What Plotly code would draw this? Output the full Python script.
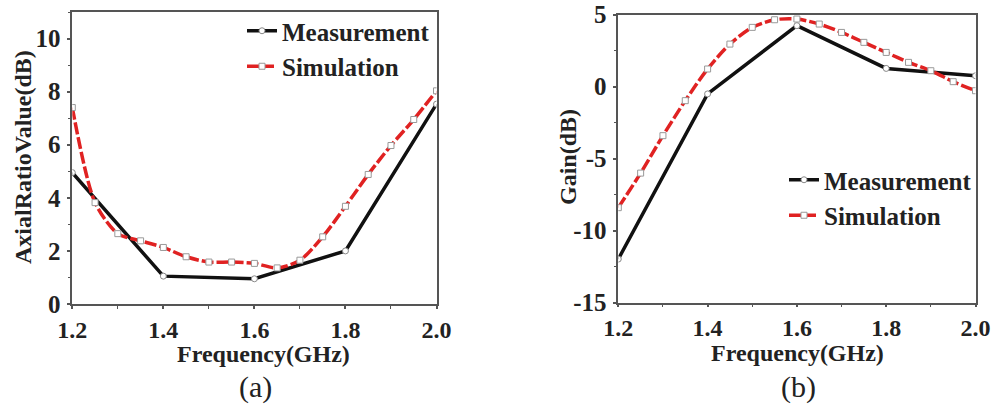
import plotly.graph_objects as go

# ---------------- data ----------------
freq_meas = [1.2, 1.4, 1.6, 1.8, 2.0]
freq_sim = [1.2, 1.25, 1.3, 1.35, 1.4, 1.45, 1.5, 1.55, 1.6, 1.65, 1.7,
            1.75, 1.8, 1.85, 1.9, 1.95, 2.0]

ar_meas = [4.95, 1.05, 0.95, 2.0, 7.53]
ar_sim = [7.4, 3.82, 2.65, 2.38, 2.13, 1.78, 1.58, 1.58, 1.53, 1.36, 1.65,
          2.53, 3.68, 4.88, 5.97, 6.95, 8.03]

gain_meas = [-11.97, -0.5, 4.24, 1.27, 0.76]
gain_sim = [-8.4, -6.0, -3.4, -0.97, 1.23, 2.96, 4.12, 4.65, 4.7, 4.35, 3.77,
            3.08, 2.38, 1.69, 1.11, 0.35, -0.28]

x_ticks = [1.2, 1.4, 1.6, 1.8, 2.0]
x_tick_text = ["1.2", "1.4", "1.6", "1.8", "2.0"]
ar_ticks = [0, 2, 4, 6, 8, 10]
ar_tick_text = ["0", "2", "4", "6", "8", "10"]
gain_ticks = [-15, -10, -5, 0, 5]
gain_tick_text = ["-15", "-10", "-5", "0", "5"]

x_title = "Frequency(GHz)"
ar_title = "AxialRatioValue(dB)"
gain_title = "Gain(dB)"

# ---------------- style ----------------
W, H = 993, 411
SERIF = "Liberation Serif, Times New Roman, serif"
RED = "#e02222"
BLACK = "#111111"
AXC = "#555555"
TXT = "#222222"


def px(x):
    return x / W


def py(y):
    return 1 - y / H


fig = go.Figure()

meas_marker = dict(symbol="circle", size=6, color="white",
                   line=dict(color="#888888", width=1))
sim_marker = dict(symbol="square", size=6, color="white",
                  line=dict(color="#999999", width=1))

# panel (a)
fig.add_trace(go.Scatter(x=freq_meas, y=ar_meas, mode="lines+markers",
                         name="Measurement", line=dict(color=BLACK, width=3.5),
                         marker=meas_marker, xaxis="x", yaxis="y",
                         legend="legend"))
fig.add_trace(go.Scatter(x=freq_sim, y=ar_sim, mode="lines+markers",
                         name="Simulation",
                         line=dict(color=RED, width=3.5, shape="spline",
                                   smoothing=0.8, dash="12px,3px"),
                         marker=sim_marker, xaxis="x", yaxis="y",
                         legend="legend"))
# panel (b)
fig.add_trace(go.Scatter(x=freq_meas, y=gain_meas, mode="lines+markers",
                         name="Measurement", line=dict(color=BLACK, width=3.5),
                         marker=meas_marker, xaxis="x2", yaxis="y2",
                         legend="legend2"))
fig.add_trace(go.Scatter(x=freq_sim, y=gain_sim, mode="lines+markers",
                         name="Simulation",
                         line=dict(color=RED, width=3.5, shape="spline",
                                   smoothing=0.8, dash="12px,3px"),
                         marker=sim_marker, xaxis="x2", yaxis="y2",
                         legend="legend2"))

tickfont = dict(family=SERIF, size=25, color=TXT, weight="bold")
xtickfont = dict(family=SERIF, size=24, color=TXT, weight="bold")
titlefont = dict(family=SERIF, size=24, color=TXT, weight="bold")
ytitlefont = dict(family=SERIF, size=24, color=TXT, weight="bold")


def xaxis(domain, anchor):
    return dict(domain=domain, anchor=anchor, range=[1.2, 2.0],
                tickvals=x_ticks, ticktext=x_tick_text, automargin=False,
                showline=True, linecolor=AXC, linewidth=1.5, mirror=True,
                ticks="outside", ticklen=3, tickwidth=1.5, tickcolor=AXC,
                minor=dict(dtick=0.1, tick0=1.2, ticks="outside", ticklen=3,
                           tickwidth=1, tickcolor=AXC),
                showgrid=False, zeroline=False, tickfont=xtickfont,
                ticklabelstandoff=0)


def yaxis(domain, anchor, rng, ticks, ticktext, minor_dt):
    return dict(domain=domain, anchor=anchor, range=rng, tickvals=ticks,
                ticktext=ticktext, automargin=False,
                showline=True, linecolor=AXC, linewidth=1.5, mirror=True,
                ticks="outside", ticklen=4, tickwidth=1.5, tickcolor=AXC,
                minor=dict(dtick=minor_dt, tick0=rng[0], ticks="outside",
                           ticklen=3, tickwidth=1, tickcolor=AXC),
                showgrid=False, zeroline=False, tickfont=tickfont,
                ticklabelstandoff=1)


legfont = dict(family=SERIF, size=25, color=TXT, weight="bold")


def ann(text, x, y, font, angle=0):
    return dict(text=text, x=px(x), y=py(y), xref="paper", yref="paper",
                xanchor="center", yanchor="middle", showarrow=False,
                textangle=angle, font=font)


caption_font = dict(family=SERIF, size=30, color=TXT)

fig.update_layout(
    width=W, height=H,
    margin=dict(l=0, r=0, t=0, b=0, autoexpand=False),
    paper_bgcolor="white", plot_bgcolor="white",
    showlegend=True,
    xaxis=xaxis([px(72.3), px(436.5)], "y"),
    yaxis=yaxis([py(304), py(12)], "x", [0, 11], ar_ticks, ar_tick_text, 1),
    xaxis2=xaxis([px(618.3), px(975.5)], "y2"),
    yaxis2=yaxis([py(302.7), py(14.7)], "x2", [-15, 5], gain_ticks,
                 gain_tick_text, 2.5),
    legend=dict(x=px(242), y=py(8), xanchor="left", yanchor="top",
                bgcolor="rgba(0,0,0,0)", font=legfont, tracegroupgap=0,
                itemwidth=30),
    legend2=dict(x=px(784), y=py(157), xanchor="left", yanchor="top",
                 bgcolor="rgba(0,0,0,0)", font=legfont, tracegroupgap=0,
                 itemwidth=30),
    annotations=[
        ann(x_title, 263, 354, titlefont),
        ann(x_title, 797, 353, titlefont),
        ann(ar_title, 23, 157, ytitlefont, -90),
        ann(gain_title, 568, 157, ytitlefont, -90),
        ann("(a)", 255, 387, caption_font),
        ann("(b)", 798, 387, caption_font),
    ],
)

fig.write_html("out.html")
